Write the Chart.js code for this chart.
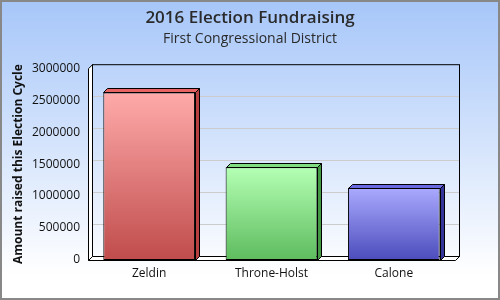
<!DOCTYPE html>
<html>
<head>
<meta charset="utf-8">
<script src="https://cdn.jsdelivr.net/npm/chart.js@4"></script>
<style>
  html, body { margin: 0; padding: 0; background: #fff; }
  #wrap { width: 500px; height: 300px; }
</style>
</head>
<body>
<div id="wrap"><canvas id="fondosChart" width="500" height="300"></canvas></div>
<script>
// datos del grafico
const candidatos = ['Zeldin', 'Throne-Holst', 'Calone'];
const montos = [2620000, 1450000, 1130000];
const marcasY = [0, 500000, 1000000, 1500000, 2000000, 2500000, 3000000];

// colores: [arriba, abajo, cara superior, cara lateral]
const coloresBarras = [
    ['#ffaaaa', '#c04c4c', '#e86464', '#b84040'],
    ['#b4ffb4', '#5ebc5e', '#80dc80', '#449a44'],
    ['#aaaaff', '#4c4cbc', '#6a6ae0', '#34349a']
];

const PROF = 4; // profundidad 3D

const fondo3D = {
    id: 'fondo3D',
    beforeDraw(chart) {
        const ctx = chart.ctx;
        const w = chart.width, h = chart.height;
        const g = ctx.createLinearGradient(0, 0, 0, 275);
        g.addColorStop(0, '#a6c6f9');
        g.addColorStop(1, '#ffffff');
        ctx.save();
        ctx.fillStyle = g;
        ctx.fillRect(0, 0, w, h);
        ctx.strokeStyle = '#888888';
        ctx.lineWidth = 2;
        ctx.strokeRect(1, 1, w - 2, h - 2);
        ctx.restore();
    },
    beforeDatasetsDraw(chart) {
        const ctx = chart.ctx;
        const a = chart.chartArea;
        const y = chart.scales.y;
        const d = PROF;
        ctx.save();
        // lineas de la cuadricula sobre la pared del fondo
        ctx.strokeStyle = '#cccccc';
        ctx.lineWidth = 1;
        marcasY.forEach(v => {
            if (v === 0 || v === 3000000) return;
            const py = Math.round(y.getPixelForValue(v) - d) + 0.5;
            ctx.beginPath();
            ctx.moveTo(a.left + d, py);
            ctx.lineTo(a.right + d, py);
            ctx.stroke();
        });
        ctx.strokeStyle = '#000';
        // pared del fondo
        ctx.strokeRect(a.left + d + 0.5, a.top - d + 0.5, a.right - a.left, a.bottom - a.top);
        // pared izquierda
        ctx.fillStyle = '#ffffff';
        ctx.beginPath();
        ctx.moveTo(a.left + 0.5, a.top + 0.5);
        ctx.lineTo(a.left + d + 0.5, a.top - d + 0.5);
        ctx.lineTo(a.left + d + 0.5, a.bottom - d + 0.5);
        ctx.lineTo(a.left + 0.5, a.bottom + 0.5);
        ctx.closePath();
        ctx.fill();
        ctx.stroke();
        // piso
        ctx.beginPath();
        ctx.moveTo(a.left + 0.5, a.bottom + 0.5);
        ctx.lineTo(a.left + d + 0.5, a.bottom - d + 0.5);
        ctx.lineTo(a.right + d + 0.5, a.bottom - d + 0.5);
        ctx.lineTo(a.right + 0.5, a.bottom + 0.5);
        ctx.closePath();
        ctx.fill();
        ctx.stroke();
        ctx.restore();
    },
    afterDatasetsDraw(chart) {
        const ctx = chart.ctx;
        const d = PROF;
        const meta = chart.getDatasetMeta(0);
        ctx.save();
        ctx.strokeStyle = '#000';
        ctx.lineWidth = 1;
        meta.data.forEach((bar, i) => {
            const l = Math.round(bar.x - bar.width / 2) + 0.5;
            const r = Math.round(bar.x + bar.width / 2) + 0.5;
            const t = Math.round(bar.y) + 0.5;
            const b = Math.round(bar.base) + 0.5;
            // cara superior
            ctx.fillStyle = coloresBarras[i][2];
            ctx.beginPath();
            ctx.moveTo(l, t);
            ctx.lineTo(l + d, t - d);
            ctx.lineTo(r + d, t - d);
            ctx.lineTo(r, t);
            ctx.closePath();
            ctx.fill();
            ctx.stroke();
            // cara lateral
            ctx.fillStyle = coloresBarras[i][3];
            ctx.beginPath();
            ctx.moveTo(r, t);
            ctx.lineTo(r + d, t - d);
            ctx.lineTo(r + d, b - d);
            ctx.lineTo(r, b);
            ctx.closePath();
            ctx.fill();
            ctx.stroke();
        });
        ctx.restore();
    }
};

function gradienteBarra(context) {
    const chart = context.chart;
    const a = chart.chartArea;
    const i = context.dataIndex;
    const escalaY = chart.scales.y;
    if (!a || !escalaY || i === undefined) return coloresBarras[i || 0][0];
    const top = escalaY.getPixelForValue(montos[i]);
    if (!isFinite(top) || !isFinite(a.bottom)) return coloresBarras[i][0];
    const g = chart.ctx.createLinearGradient(0, top, 0, a.bottom);
    g.addColorStop(0, coloresBarras[i][0]);
    g.addColorStop(1, coloresBarras[i][1]);
    return g;
}

const ctx = document.getElementById('fondosChart').getContext('2d');
const fondosChart = new Chart(ctx, {
    type: 'bar',
    data: {
        labels: candidatos,
        datasets: [{
            label: 'Fondos',
            data: montos,
            backgroundColor: gradienteBarra,
            borderColor: '#000000',
            borderWidth: 1,
            borderSkipped: false,
            categoryPercentage: 1,
            barPercentage: 0.75
        }]
    },
    plugins: [fondo3D],
    options: {
        responsive: false,
        animation: false,
        layout: {
            padding: 0
        },
        plugins: {
            legend: { display: false },
            tooltip: { enabled: false },
            title: {
                display: true,
                text: '2016 Election Fundraising',
                color: '#2a2a2a',
                font: { family: 'Open Sans', size: 17, weight: '600' },
                padding: { top: 8, bottom: 2 }
            },
            subtitle: {
                display: true,
                text: 'First Congressional District',
                color: '#2a2a2a',
                font: { family: 'Open Sans', size: 14, weight: 'normal' },
                padding: { top: 0, bottom: 21 }
            }
        },
        scales: {
            y: {
                min: 0,
                max: 3000000,
                afterFit: (escala) => { escala.width = 88; },
                afterBuildTicks: (escala) => {
                    escala.ticks = marcasY.map(v => ({ value: v }));
                },
                grid: { display: false, drawTicks: false },
                border: { display: false },
                ticks: {
                    color: '#111111',
                    padding: 8,
                    font: { family: 'Open Sans', size: 12 },
                    callback: function(value) {
                        return String(value);
                    }
                },
                title: {
                    display: true,
                    text: 'Amount raised this Election Cycle',
                    color: '#111111',
                    font: { family: 'Open Sans', size: 12, weight: 'bold' },
                    padding: { top: 11, bottom: 0 }
                }
            },
            // eje vacio a la derecha para dejar margen sin mover el titulo
            margenDer: {
                type: 'linear',
                position: 'right',
                afterFit: (escala) => { escala.width = 45; },
                grid: { display: false, drawTicks: false },
                border: { display: false },
                ticks: { display: false }
            },
            x: {
                afterFit: (escala) => { escala.height = 40; },
                grid: { display: false, drawTicks: false },
                border: { display: false },
                ticks: {
                    color: '#111111',
                    padding: 6,
                    font: { family: 'Open Sans', size: 12 }
                }
            }
        }
    }
});
</script>
</body>
</html>
